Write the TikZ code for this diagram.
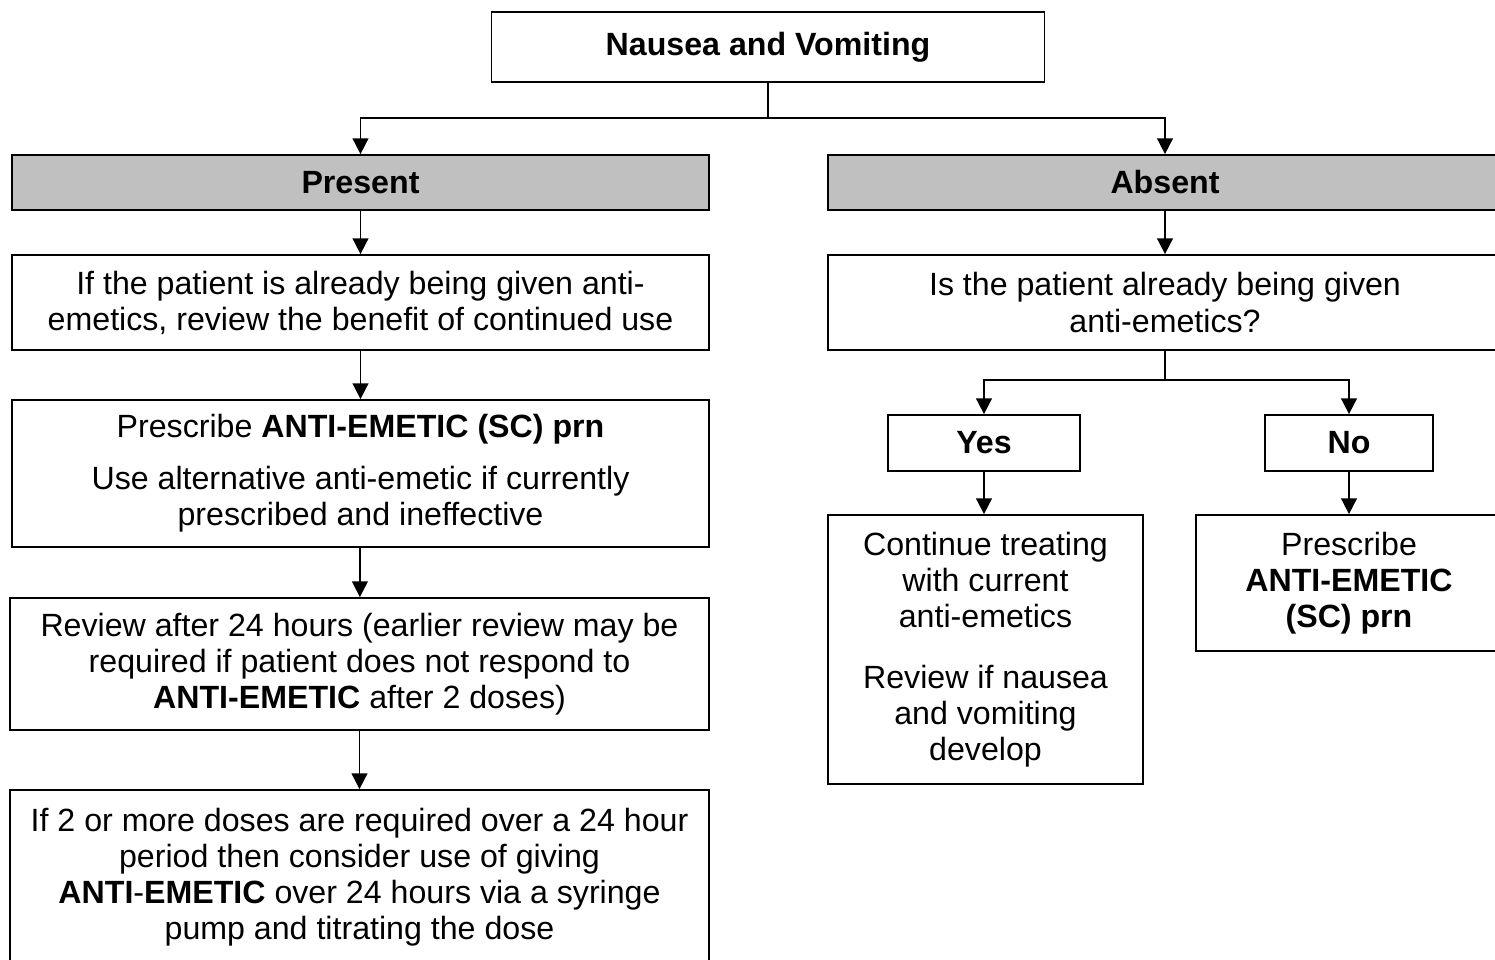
\documentclass[tikz,border=0pt]{standalone}
\usepackage{fontspec}
\setmainfont{Liberation Sans}
\usepackage{tikz}
\usetikzlibrary{arrows.meta}
\definecolor{headgray}{RGB}{192,192,192}

\tikzset{
  box/.style={draw, line width=1pt, inner sep=0pt, align=center,
    font=\fontsize{18.3}{20.5}\selectfont},
  headbox/.style={box, fill=headgray, font=\fontsize{18.3}{20.5}\selectfont\bfseries},
  arr/.style={line width=1pt, -{Triangle[length=9pt,width=9pt]}}
}

\begin{document}
\begin{tikzpicture}[x=0.02cm,y=-0.02cm]
        \useasboundingbox (0,0) rectangle (1495,960);
        \clip (0,0) rectangle (1495,960);
        % top of the chart
        \node[box, minimum width=553*0.02cm, minimum height=70*0.02cm] (nv) at (768,47) {\textbf{Nausea and Vomiting}};
        \node[headbox, minimum width=697*0.02cm, minimum height=55*0.02cm] (present) at (360.5,182.5) {Present};
        \node[headbox, minimum width=674*0.02cm, minimum height=55*0.02cm] (absent) at (1165,182.5) {Absent};
        % left branch
        \node[box, minimum width=697*0.02cm, minimum height=95*0.02cm] (review) at (360.5,302.5)
          {If the patient is already being given anti-\\emetics, review the benefit of continued use};
        \node[box, minimum width=697*0.02cm, minimum height=147*0.02cm] (prescribe) at (360.5,473.5)
          {Prescribe \textbf{ANTI-EMETIC (SC) prn}\\[9pt]Use alternative anti-emetic if currently\\prescribed and ineffective};
        \node[box, minimum width=699*0.02cm, minimum height=132*0.02cm] (after) at (359.5,664)
          {Review after 24 hours (earlier review may be\\required if patient does not respond to\\\textbf{ANTI-EMETIC} after 2 doses)};
        \node[box, minimum width=699*0.02cm, minimum height=175*0.02cm] (pump) at (359.5,877.5)
          {If 2 or more doses are required over a 24 hour\\period then consider use of giving\\\textbf{ANTI}-\textbf{EMETIC} over 24 hours via a syringe\\pump and titrating the dose};
        % right branch
        \node[box, minimum width=674*0.02cm, minimum height=95*0.02cm] (given) at (1165,302.5)
          {Is the patient already being given\\anti-emetics?};
        \node[box, minimum width=192*0.02cm, minimum height=56*0.02cm] (yes) at (984,443) {\textbf{Yes}};
        \node[box, minimum width=168*0.02cm, minimum height=56*0.02cm] (no) at (1349,443) {\textbf{No}};
        \node[box, minimum width=315*0.02cm, minimum height=269*0.02cm] (cont) at (985.5,649.5)
          {Continue treating\\with current\\anti-emetics\\[14pt]Review if nausea\\and vomiting\\develop};
        \node[box, minimum width=306*0.02cm, minimum height=136*0.02cm] (newae) at (1349,583)
          {Prescribe\\\textbf{ANTI-EMETIC}\\\textbf{(SC) prn}};
        % connectors
        \coordinate (split1) at (768,118);
        \coordinate (split2) at (1165,380);
        \draw[line width=1pt] (nv.south) -- (split1);
        \draw[arr] (split1) -| (present.north);
        \draw[arr] (split1) -| (absent.north);
        \draw[arr] (present) -- (review);
        \draw[arr] (review) -- (prescribe);
        \draw[arr] (prescribe) -- (after);
        \draw[arr] (after) -- (pump);
        \draw[arr] (absent) -- (given);
        \draw[line width=1pt] (given.south) -- (split2);
        \draw[arr] (split2) -| (yes.north);
        \draw[arr] (split2) -| (no.north);
        \draw[arr] (yes.south) -- (yes.south |- cont.north);
        \draw[arr] (no.south) -- (no.south |- newae.north);
\end{tikzpicture}
\end{document}
